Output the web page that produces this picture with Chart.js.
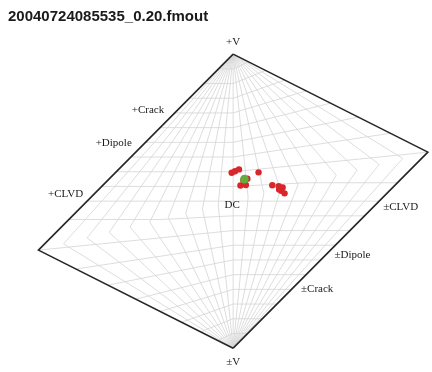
<!DOCTYPE html>
<html>
<head>
<meta charset="utf-8">
<script src="https://cdn.jsdelivr.net/npm/chart.js@4/dist/chart.umd.min.js"></script>
<style>
  html, body { margin: 0; padding: 0; background: #ffffff; }
  canvas { display: block; }
</style>
</head>
<body>
<canvas id="plot" width="432" height="372"></canvas>
<script>
const plotTitle = '20040724085535_0.20.fmout';

// Source-type solutions in Hudson (u, v) coordinates
const solutionU = [-0.010, 0.013, 0.040, 0.174, 0.097, 0.050, 0.087, 0.268, 0.312, 0.339, 0.315, 0.329, 0.352, 0.070];
const solutionV = [0.193, 0.203, 0.216, 0.196, 0.153, 0.106, 0.110, 0.108, 0.101, 0.093, 0.080, 0.070, 0.053, 0.142];

// Best solution
const bestU = [0.077];
const bestV = [0.150];

// Grid levels of the T-k parameterisation
const tLevels = [-0.9, -0.8, -0.7, -0.6, -0.5, -0.4, -0.3, -0.2, -0.1, 0, 0.1, 0.2, 0.3, 0.4, 0.5, 0.6, 0.7, 0.8, 0.9];
const kLevels = [-0.9, -0.8, -0.7, -0.6, -0.5, -0.4, -0.3, -0.2, -0.1, 0, 0.1, 0.2, 0.3, 0.4, 0.5, 0.6, 0.7, 0.8, 0.9];

// Reference mechanisms, given as (T, k)
const refNames = ['+V', '\u00b1V', '+CLVD', '+Dipole', '+Crack', 'DC', '\u00b1CLVD', '\u00b1Dipole', '\u00b1Crack'];
const refT = [0, 0, -1, -1, -1, 0, 1, 1, 1];
const refK = [1, -1, 0, 1 / 3, 5 / 9, 0, 0, -1 / 3, -5 / 9];

// Hudson et al. (1989) mapping from (T, k) to the (u, v) plane
function hudson(T, k) {
  const tau = T * (1 - Math.abs(k));
  if ((tau > 0 && k < 0) || (tau < 0 && k > 0)) return { x: tau, y: k };
  if (tau >= 0 && k >= 0) {
    const d = tau < 4 * k ? 1 - tau / 2 : 1 - 2 * k;
    return { x: tau / d, y: k / d };
  }
  const d = tau > 4 * k ? 1 + tau / 2 : 1 + 2 * k;
  return { x: tau / d, y: k / d };
}

// Polyline of constant T: the mapping is piecewise projective, so its bends are enough
function constantT(T) {
  const ks = [-1, 0, 1];
  if (T > 0) ks.push(T / (4 + T));
  if (T < 0) ks.push(T / (4 - T));
  ks.sort((a, b) => a - b);
  return ks.map(k => hudson(T, k));
}

// Polyline of constant k
function constantK(k) {
  const ts = [-1, 0, 1];
  const b = 4 * k / (1 - Math.abs(k));
  if (Math.abs(b) < 1 && b !== 0) ts.push(b);
  ts.sort((a, c) => a - c);
  return ts.map(t => hudson(t, k));
}

// Higher "order" is painted first, so the grid sits underneath everything
const gridStyle = { showLine: true, pointRadius: 0, borderColor: '#d4d4d4', borderWidth: 0.8, fill: false, tension: 0, clip: false, order: 10 };
const datasets = [];
tLevels.forEach(t => datasets.push(Object.assign({ data: constantT(t) }, gridStyle)));
kLevels.forEach(k => datasets.push(Object.assign({ data: constantK(k) }, gridStyle)));

// Outline: the T = +1 and T = -1 edges
const edgeStyle = { showLine: true, pointRadius: 0, borderColor: '#262626', borderWidth: 1.6, tension: 0, clip: false, order: 5 };
datasets.push(Object.assign({ data: constantT(1) }, edgeStyle));
datasets.push(Object.assign({ data: constantT(-1) }, edgeStyle));

datasets.push({
  data: solutionU.map((u, i) => ({ x: u, y: solutionV[i] })),
  showLine: false, pointRadius: 3.2, pointBackgroundColor: '#d8262b', pointBorderColor: '#d8262b',
  pointBorderWidth: 0, clip: false, order: 2
});
datasets.push({
  data: bestU.map((u, i) => ({ x: u, y: bestV[i] })),
  showLine: false, pointRadius: 4.3, pointBackgroundColor: '#63ad3f', pointBorderColor: '#63ad3f',
  pointBorderWidth: 0, clip: false, order: 1
});

// Label placement around each reference point (pixels)
const labelLayout = {
  '+V': { align: 'center', dx: 0, dy: -12 },
  '\u00b1V': { align: 'center', dx: 0, dy: 14 },
  '+CLVD': { align: 'right', dx: -4, dy: -7 },
  '+Dipole': { align: 'right', dx: -4, dy: -9 },
  '+Crack': { align: 'right', dx: -4, dy: -9 },
  'DC': { align: 'center', dx: -1, dy: 4 },
  '\u00b1CLVD': { align: 'left', dx: 4, dy: 6 },
  '\u00b1Dipole': { align: 'left', dx: 4, dy: 5 },
  '\u00b1Crack': { align: 'left', dx: 3, dy: 6 }
};

const textPlugin = {
  id: 'hudsonText',
  afterDraw(chart) {
    const { ctx } = chart;
    const xs = chart.scales.x, ys = chart.scales.y;
    ctx.save();
    ctx.fillStyle = '#1a1a1a';
    ctx.font = 'bold 15px "Liberation Sans", Arial, sans-serif';
    ctx.textAlign = 'left';
    ctx.textBaseline = 'alphabetic';
    ctx.fillText(plotTitle, 8, 21);
    ctx.font = '11px "Liberation Serif", "Times New Roman", serif';
    ctx.textBaseline = 'middle';
    refNames.forEach((name, i) => {
      const p = hudson(refT[i], refK[i]);
      const lay = labelLayout[name];
      ctx.textAlign = lay.align;
      ctx.fillText(name, xs.getPixelForValue(p.x) + lay.dx, ys.getPixelForValue(p.y) + lay.dy);
    });
    ctx.restore();
  }
};

// Centre (0,0) at pixel (233.5, 201.5); 149 px per unit in u, 150.5 px per unit in v
new Chart(document.getElementById('plot'), {
  type: 'scatter',
  data: { datasets },
  options: {
    responsive: false,
    animation: false,
    events: [],
    layout: { padding: 0 },
    scales: {
      x: { type: 'linear', display: false, min: -233.5 / 149, max: (432 - 233.5) / 149 },
      y: { type: 'linear', display: false, min: -(372 - 201.5) / 150.5, max: 201.5 / 150.5 }
    },
    plugins: { legend: { display: false }, tooltip: { enabled: false }, title: { display: false } }
  },
  plugins: [textPlugin]
});
</script>
</body>
</html>
